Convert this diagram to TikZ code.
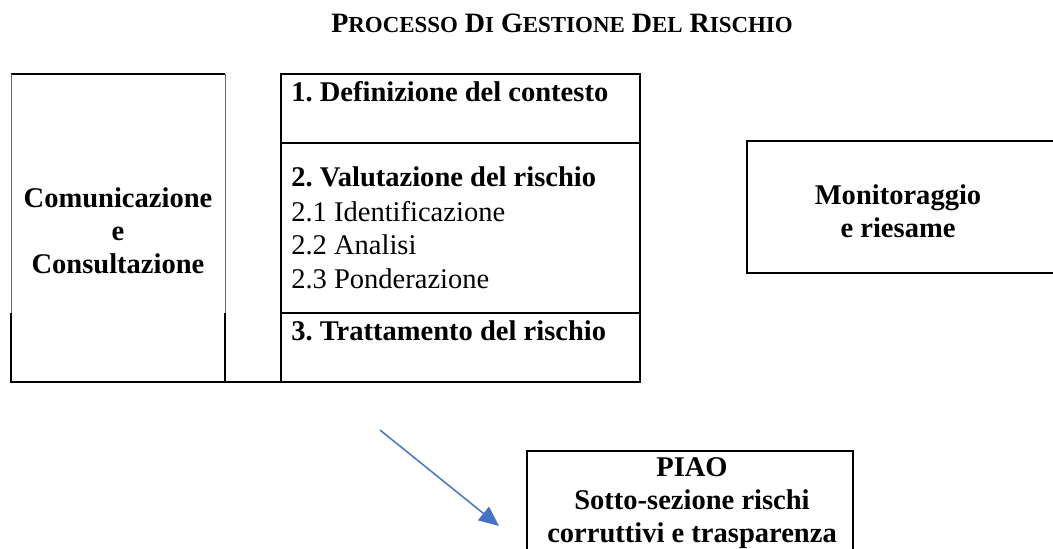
\documentclass[tikz,border=0pt]{standalone}
\usepackage{fontspec}
\setmainfont{Liberation Serif}
\usetikzlibrary{positioning,arrows.meta}
\definecolor{arrowblue}{RGB}{68,114,196}
\newcommand{\scword}[2]{{\fontsize{21}{24}\selectfont #1}{\fontsize{17.2}{20}\selectfont #2}}
\frenchspacing

\begin{document}
\begin{tikzpicture}[x=0.75pt,y=-0.75pt,
                    box line/.style={line width=1.2pt,black},
                    faint line/.style={line width=0.5pt,black!60},
                    cell text/.style={inner sep=0pt,anchor=base west,font=\fontsize{21.4}{24.75}\selectfont},
                    cell head/.style={cell text,font=\fontsize{21.4}{24.75}\selectfont\bfseries},
                    block text/.style={inner sep=0pt,align=center,font=\fontsize{21.4}{24.75}\selectfont\bfseries}
                   ]
  \useasboundingbox (0,0) rectangle (1053,549);
  \node[inner sep=0pt,anchor=base,font=\fontsize{21}{24}\selectfont\bfseries] (title) at (562,33)
    {\scword{P}{ROCESSO} \scword{D}{I} \scword{G}{ESTIONE} \scword{D}{EL} \scword{R}{ISCHIO}};
  % table
  \draw[box line] (11,74) -- (225,74);
  \draw[faint line] (11,74) -- (11,313) (225,74) -- (225,313);
  \draw[box line] (11,313) -- (11,382) -- (640,382) -- (640,74) -- (281,74) -- (281,382);
  \draw[box line] (225,313) -- (225,382);
  \draw[box line] (281,143) -- (640,143) (281,313) -- (640,313);
  \node[block text] (comm) at (118,231) {Comunicazione\\e\\Consultazione};
  \node[cell head] (def) at (291,102) {1. Definizione del contesto};
  \node[cell head] (val) at (291,187) {2. Valutazione del rischio};
  \node[cell text] (ident) at (291,221) {2.1 Identificazione};
  \node[cell text] (anal) at (291,254.5) {2.2 Analisi};
  \node[cell text] (pond) at (291,288) {2.3 Ponderazione};
  \node[cell head] (tratt) at (291,340) {3. Trattamento del rischio};
  % monitoraggio
  \draw[box line] (1053,141) -- (747,141) -- (747,273) -- (1053,273);
  \node[block text] (monit) at (898,211) {Monitoraggio\\e riesame};
  % piao
  \draw[box line] (527,549) -- (527,451) -- (853,451) -- (853,549);
  \node[block text] (piao) at (692,503) {PIAO\\Sotto-sezione rischi\\corruttivi e trasparenza};
  \coordinate (from) at (380,430);
  \coordinate (to) at (499,526);
  \draw[arrowblue,line width=1.1pt,-{Triangle[length=15pt,width=13pt]}] (from) -- (to);
\end{tikzpicture}
\end{document}
